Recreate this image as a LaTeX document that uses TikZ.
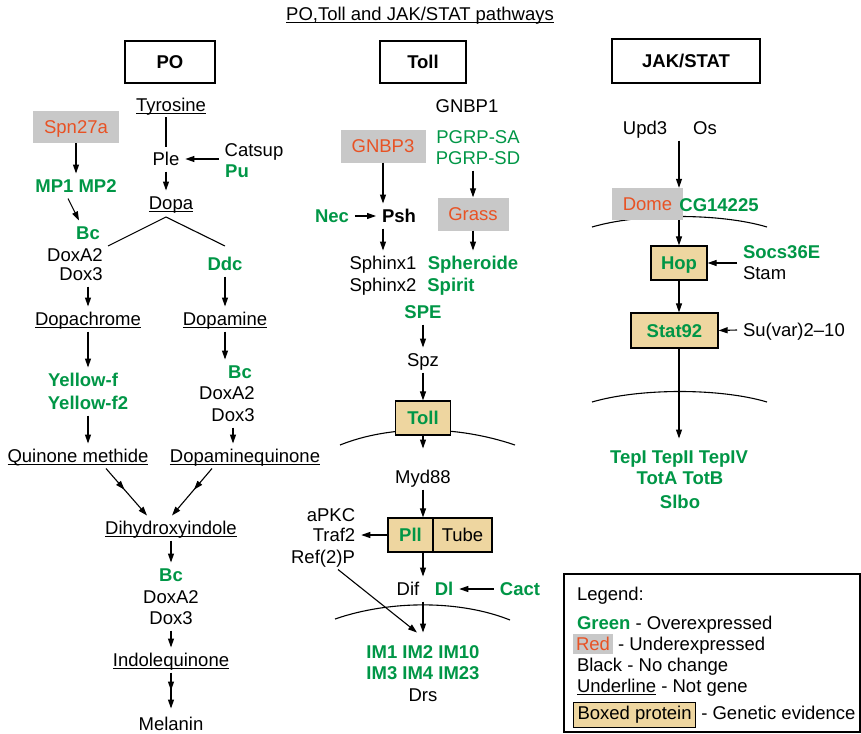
\documentclass[tikz,border=0pt]{standalone}
\usepackage{fontspec}
\setmainfont{Liberation Sans}
\usetikzlibrary{arrows.meta,decorations.markings}
\definecolor{gr}{RGB}{0,150,70}
\definecolor{orr}{RGB}{232,82,36}
\definecolor{bgray}{RGB}{200,200,200}
\definecolor{ptan}{RGB}{238,214,160}
\newcommand\fsz{\fontsize{18.5}{22}\selectfont}
\newsavebox\ulbox
\newcommand\uln[1]{\sbox\ulbox{#1}\rlap{\rule[-2.6pt]{\wd\ulbox}{1.1pt}}\usebox\ulbox}
\begin{document}
\begin{tikzpicture}[x=1pt,y=-1pt, every node/.style={font=\fsz},
 t/.style={inner sep=0pt, outer sep=6pt, text height=13pt, text depth=0pt},
 g/.style={t, text=gr, font=\fsz\bfseries},
 gn/.style={t, text=gr},
 gbox/.style={fill=bgray, text=orr, inner sep=0pt, text height=13pt, text depth=0pt},
 pbox/.style={draw, line width=1.2pt, fill=ptan, inner sep=0pt, text height=13pt, text depth=0pt, font=\fsz\bfseries},
 hbox/.style={draw, line width=1.4pt, inner sep=0pt, font=\fsz\bfseries, text height=13pt, text depth=0pt},
 arr/.style={line width=1.1pt, -{Triangle[length=9pt,width=6pt]}},
 ln/.style={line width=1.1pt},
 midarr/.style={postaction={decorate}, decoration={markings, mark=at position #1 with {\arrow{Triangle[length=9pt,width=6pt]}}}}
]
\useasboundingbox (0,0) rectangle (861,733);
% title and headers
\node[t] (title) at (420,14) {\uln{PO,Toll and JAK/STAT pathways}};
\node[hbox, minimum width=90pt, minimum height=42pt] (hpo) at (170,62) {PO};
\node[hbox, minimum width=86pt, minimum height=42pt] (htoll) at (423,62) {Toll};
\node[hbox, minimum width=148pt, minimum height=44pt] (hjak) at (686,61) {JAK/STAT};
% PO column
\node[t] (tyr) at (171,105) {\uln{Tyrosine}};
\node[gbox, minimum width=86pt, minimum height=32pt] (spn) at (76,127) {Spn27a};
\node[g] (mp) at (76,186) {MP1 MP2};
\node[g] (bc1) at (88,233) {Bc};
\node[t] (doxa1) at (75,255) {DoxA2};
\node[t] (doxb1) at (81,274) {Dox3};
\node[t] (ple) at (166,159) {Ple};
\node[t] (catsup) at (254,150) {Catsup};
\node[g] (pu) at (237,171) {Pu};
\node[t] (dopa) at (171,203) {\uln{Dopa}};
\coordinate (fork) at (166,217);
\coordinate (forkl) at (108,246);
\coordinate (forkr) at (225,246);
\node[g] (ddc) at (225,264) {Ddc};
\node[t] (dopachrome) at (88,319) {\uln{Dopachrome}};
\node[t] (dopamine) at (225,319) {\uln{Dopamine}};
\node[g] (yf) at (83,380) {Yellow-f};
\node[g] (yf2) at (88,403) {Yellow-f2};
\node[t] (qm) at (78,456) {\uln{Quinone methide}};
\node[g] (bc2) at (240,372) {Bc};
\node[t] (doxa2) at (227,393) {DoxA2};
\node[t] (doxb2) at (233,415) {Dox3};
\node[t] (dq) at (245,456) {\uln{Dopaminequinone}};
\node[t] (dhi) at (171,528) {\uln{Dihydroxyindole}};
\node[g] (bc3) at (171,575) {Bc};
\node[t] (doxa3) at (171,597) {DoxA2};
\node[t] (doxb3) at (171,618) {Dox3};
\node[t] (iq) at (171,660) {\uln{Indolequinone}};
\node[t] (mel) at (171,724) {Melanin};
\draw[arr] (spn.south) -- (mp.north);
\draw[arr] ([xshift=-8pt]mp.south) -- ([xshift=-9pt]bc1.north);
\draw[ln] (tyr.south -| ple) -- (ple.north);
\draw[arr] (catsup.west |- ple) -- (ple.east);
\draw[arr] (ple.south) -- (dopa.north -| ple);
\draw[ln] (forkl) -- (fork) -- (forkr);
\draw[arr] (ddc.south) -- (dopamine.north);
\draw[arr] (doxb1.south -| dopachrome) -- (dopachrome.north);
\draw[arr] (dopachrome.south) -- (yf.north -| dopachrome);
\draw[arr] (yf2.south) -- (qm.north -| yf2);
\draw[arr] (dopamine.south) -- (bc2.north -| dopamine);
\draw[arr] (doxb2.south) -- (dq.north -| doxb2);
\draw[arr, midarr=0.45] ([xshift=28pt]qm.south) -- ([xshift=-24pt]dhi.north);
\draw[arr, midarr=0.45] ([xshift=-33pt]dq.south) -- ([xshift=1pt]dhi.north);
\draw[arr] (dhi.south) -- (bc3.north);
\draw[arr] (doxb3.south) -- (iq.north);
\draw[arr, midarr=0.5] (iq.south) -- ([yshift=3pt]mel.north);
% Toll column
\node[t] (gnbp1) at (467,106) {GNBP1};
\node[gbox, minimum width=85pt, minimum height=33pt] (gnbp3) at (383,146) {GNBP3};
\node[gn] (pgsa) at (478,137) {PGRP-SA};
\node[gn] (pgsd) at (478,158) {PGRP-SD};
\node[g] (nec) at (332,216) {Nec};
\node[t, font=\fsz\bfseries] (psh) at (399,216) {Psh};
\node[gbox, minimum width=71pt, minimum height=33pt] (grass) at (473,214) {Grass};
\node[t] (sph1) at (383,263) {Sphinx1};
\node[t] (sph2) at (383,285) {Sphinx2};
\node[g] (spheroide) at (473,263) {Spheroide};
\node[g] (spirit) at (451,285) {Spirit};
\node[g] (spe) at (423,312) {SPE};
\node[t] (spz) at (423,360) {Spz};
\draw[ln] (340,445) .. controls (390,425) and (456,425) .. (515,445);
\node[pbox, text=gr, minimum width=55pt, minimum height=34pt] (toll) at (423,418) {Toll};
\node[t] (myd) at (423,477) {Myd88};
\node[pbox, text=gr, minimum width=45pt, minimum height=34pt] (pll) at (410.5,535) {Pll};
\node[pbox, font=\fsz, minimum width=59pt, minimum height=34pt] (tube) at (462.5,535) {Tube};
\node[t] (apkc) at (331,515) {aPKC};
\node[t] (traf2) at (334,535) {Traf2};
\node[t] (ref2p) at (323,557) {Ref(2)P};
\node[t] (dif) at (408,589) {Dif};
\node[g] (dl) at (444,589) {Dl};
\node[g] (cact) at (520,589) {Cact};
\draw[ln] (335,619) .. controls (390,600) and (460,600) .. (510,620);
\node[g] (im1) at (423,652) {IM1 IM2 IM10};
\node[g] (im2) at (423,673) {IM3 IM4 IM23};
\node[t] (drs) at (423,695) {Drs};
\draw[arr] (gnbp3.south) -- (gnbp3.south |- psh.north);
\draw[arr] (nec.east) -- (psh.west);
\draw[arr] (pgsd.south -| grass) -- (grass.north);
\draw[arr] (grass.south) -- (spheroide.north);
\draw[arr] (psh.south -| gnbp3) -- (sph1.north);
\draw[arr] (spe.south) -- (spz.north);
\draw[arr] (spz.south) -- (toll.north);
\draw[arr] (toll.south) -- ([yshift=16pt]myd.north);
\draw[arr] (myd.south) -- (myd.south |- pll.north);
\draw[arr] (pll.west) -- (traf2.east);
\draw[arr] ([xshift=15pt]ref2p.south) -- ([xshift=-6pt,yshift=7pt]im1.north);
\draw[arr] (pll.south -| myd) -- (myd |- dif.north);
\draw[arr] (cact.west) -- (dl.east);
\draw[arr] (myd |- dif.south) -- ([yshift=7pt]im1.north);
% JAK/STAT column
\node[t] (upd3) at (645,128) {Upd3};
\node[t] (os) at (705,128) {Os};
\draw[ln] (592,227) .. controls (640,213) and (720,213) .. (767,227);
\node[gbox, minimum width=71pt, minimum height=32pt] (dome) at (647.5,204) {Dome};
\node[g] (cg) at (719,205) {CG14225};
\node[pbox, text=gr, minimum width=56pt, minimum height=34pt] (hop) at (679,263) {Hop};
\node[pbox, text=gr, minimum width=87pt, minimum height=35pt] (stat) at (674.5,330.5) {Stat92};
\node[g, anchor=west] (socs) at (737,252) {Socs36E};
\node[t, anchor=west] (stam) at (737,273) {Stam};
\node[t, anchor=west] (suvar) at (737,330) {Su(var)2\textendash10};
\draw[ln] (592,402) .. controls (640,388) and (720,388) .. (767,402);
\node[g] (tep) at (679,457) {TepI TepII TepIV};
\node[g] (tot) at (680,478) {TotA TotB};
\node[g] (slbo) at (680,502) {Slbo};
\draw[arr] (upd3.south -| hop) -- (dome.north -| hop);
\draw[arr] (dome.south -| hop) -- (hop.north);
\draw[arr] (socs.west |- hop) -- (hop.east);
\draw[arr] (hop.south) -- (hop.south |- stat.north);
\draw[arr] (suvar.west) -- (stat.east);
\draw[arr] (stat.south -| hop) -- ([yshift=6pt]tep.north);
% legend
\node[draw, line width=1.1pt, minimum width=296pt, minimum height=158pt, inner sep=0pt] (legend) at (712,653) {};
\node[t, anchor=west] (lg0) at (571,594) {Legend:};
\node[t, anchor=west] (lg1) at (571,623) {\textcolor{gr}{\bfseries Green} - Overexpressed};
\node[t, anchor=west] (lg2) at (567,644) {\fboxsep=3pt\colorbox{bgray}{\textcolor{orr}{Red}} - Underexpressed};
\node[t, anchor=west] (lg3) at (571,665) {Black - No change};
\node[t, anchor=west] (lg4) at (571,686) {\uln{Underline} - Not gene};
\node[t, anchor=west] (lg5) at (567,713) {\fboxsep=3.5pt\fboxrule=1pt\fcolorbox{black}{ptan}{Boxed protein} - Genetic evidence};
\end{tikzpicture}
\end{document}
